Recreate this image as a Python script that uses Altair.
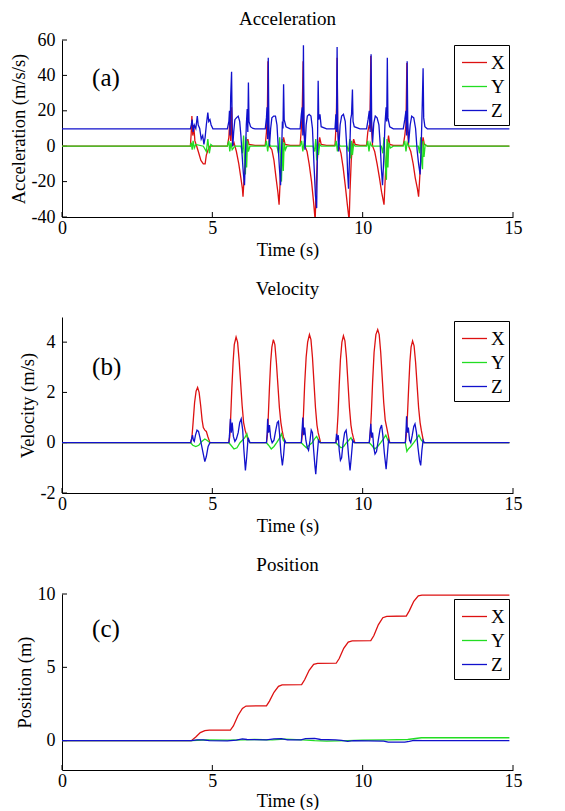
import altair as alt
import pandas as pd

# ---------------- data ----------------
series_names = ["X", "Y", "Z"]
series_colors = ["#dd1111", "#22dd22", "#1111cc"]

x_ticks = [0, 5, 10, 15]
acc_ticks = [-40, -20, 0, 20, 40, 60]
vel_ticks = [-2, 0, 2, 4]
pos_ticks = [0, 5, 10]

acc_x = [(0, 0), (4.27, 0), (4.30, 8), (4.32, 17), (4.35, 6), (4.38, 12), (4.42, 3), (4.48, 0), (4.55, -4),
         (4.62, -8), (4.70, -10), (4.76, -10), (4.80, -5), (4.86, -2), (4.92, 0), (5.02, 0),
         (5.50, 0), (5.55, 5), (5.58, 15), (5.61, 3), (5.64, 22), (5.67, 0), (5.72, 2), (5.80, -3), (5.88, -10),
         (5.95, -18), (6.00, -24), (6.02, -28.5), (6.05, -20), (6.09, -8), (6.13, 0), (6.18, 4), (6.22, 1), (6.42, 0.5),
         (6.76, 0.5), (6.80, 8), (6.83, 18), (6.85, 48), (6.87, 10), (6.90, 0), (6.98, -2), (7.05, -8), (7.12, -18),
         (7.18, -26), (7.22, -33), (7.25, -22), (7.29, -8), (7.33, 0), (7.37, 5), (7.42, 1), (7.59, 0.5),
         (7.92, 0.5), (7.96, 10), (7.99, 20), (8.02, 48), (8.04, 12), (8.08, 0), (8.15, -3), (8.22, -10), (8.30, -20),
         (8.37, -32), (8.42, -42), (8.45, -25), (8.49, -8), (8.53, 0), (8.57, 5), (8.62, 1), (8.80, 0.5),
         (9.08, 0.5), (9.11, 10), (9.13, 22), (9.15, 50), (9.17, 10), (9.21, 0), (9.28, -4), (9.35, -12), (9.42, -22),
         (9.49, -33), (9.55, -42), (9.58, -25), (9.62, -8), (9.66, 0), (9.70, 4), (9.75, 1), (9.91, 0.5),
         (10.13, 0.5), (10.17, 8), (10.22, 12), (10.24, 10), (10.27, 51), (10.29, 12), (10.33, 0), (10.40, -3),
         (10.48, -10), (10.56, -18), (10.63, -26), (10.71, -33), (10.74, -22), (10.78, -8), (10.82, 0), (10.86, 6),
         (10.90, 1), (11.02, 0.5),
         (11.35, 0.5), (11.40, 6), (11.44, 12), (11.47, 47), (11.49, 10), (11.53, 0), (11.60, -3), (11.68, -10),
         (11.75, -18), (11.82, -24), (11.86, -28.5), (11.89, -20), (11.93, -8), (11.97, 0), (12.01, 5), (12.05, 1),
         (12.15, 0), (14.88, 0)]

acc_y = [(0, 0), (4.27, 0), (4.30, 2), (4.33, -2), (4.36, 3), (4.40, -1), (4.45, 1), (4.70, 0), (4.80, -3),
         (4.85, 4), (4.90, -4), (4.95, 1), (5.02, 0),
         (5.50, 0), (5.55, 3), (5.58, -3), (5.62, 2), (5.66, -2), (5.75, 0), (5.95, 0), (6.00, -4), (6.04, 6),
         (6.07, -8), (6.10, -16), (6.12, 5), (6.14, -12), (6.17, 3), (6.20, -3), (6.25, 0), (6.42, 0),
         (6.76, 0), (6.80, 3), (6.84, -3), (6.88, 2), (6.93, 0), (7.15, 0), (7.20, -4), (7.24, 5), (7.27, -8),
         (7.30, -20), (7.33, 4), (7.36, -14), (7.39, 2), (7.43, -2), (7.48, 0), (7.59, 0),
         (7.92, 0), (7.97, 3), (8.01, -3), (8.05, 2), (8.10, 0), (8.35, 0), (8.40, -3), (8.44, 4), (8.47, -8),
         (8.50, 3), (8.53, -5), (8.57, 1), (8.62, 0), (8.80, 0),
         (9.08, 0), (9.12, 3), (9.16, -3), (9.20, 2), (9.25, 0), (9.48, 0), (9.53, -3), (9.57, 4), (9.60, -7),
         (9.63, 3), (9.66, -5), (9.70, 1), (9.75, 0), (9.91, 0),
         (10.13, 0), (10.17, 3), (10.21, -3), (10.25, 2), (10.30, 0), (10.62, 0), (10.67, -4), (10.71, 5),
         (10.75, -10), (10.79, -19), (10.81, 4), (10.84, -12), (10.87, 2), (10.92, -1), (11.02, 0),
         (11.35, 0), (11.40, 3), (11.44, -3), (11.48, 2), (11.53, 0), (11.85, 0), (11.89, -4), (11.93, 5),
         (11.96, -8), (11.99, -13), (12.01, 3), (12.04, -6), (12.08, 1), (12.15, 0), (14.88, 0)]

acc_z = [(0, 9.8), (4.27, 9.8), (4.30, 12), (4.33, 15), (4.36, 8), (4.40, 12), (4.45, 10), (4.50, 17), (4.53, 12),
         (4.58, 10), (4.63, 4), (4.68, 6), (4.72, 1), (4.76, 5), (4.80, 12), (4.85, 19), (4.88, 14), (4.92, 15),
         (4.96, 12), (5.02, 9.8),
         (5.50, 9.8), (5.55, 14), (5.57, 20), (5.59, 6), (5.61, 28), (5.64, 42), (5.66, 12), (5.68, 0), (5.71, 8),
         (5.75, 15), (5.80, 16), (5.86, 17), (5.91, 14), (5.95, 6), (5.99, -5), (6.03, -15), (6.07, -22), (6.10, -6),
         (6.13, 12), (6.16, 21), (6.18, 8), (6.20, 36), (6.22, 14), (6.27, 11), (6.35, 10), (6.42, 9.8),
         (6.76, 9.8), (6.80, 16), (6.82, 22), (6.84, 4), (6.86, 50), (6.88, 12), (6.90, 0), (6.94, 10), (6.98, 16),
         (7.04, 17), (7.10, 17), (7.15, 12), (7.19, 0), (7.23, -12), (7.27, -22), (7.30, -5), (7.33, 14), (7.35, 10),
         (7.37, 35), (7.39, 15), (7.45, 11), (7.59, 9.8),
         (7.92, 9.8), (7.96, 18), (7.99, 22), (8.01, 6), (8.03, 57), (8.05, 10), (8.08, -2), (8.12, 12), (8.16, 17),
         (8.22, 18), (8.28, 17), (8.33, 10), (8.38, -10), (8.43, -28), (8.47, -35), (8.49, -10), (8.51, 20),
         (8.52, 37), (8.54, 15), (8.58, 18), (8.62, 11), (8.80, 9.8),
         (9.08, 9.8), (9.11, 18), (9.13, 8), (9.15, 56), (9.17, 12), (9.20, -3), (9.25, 12), (9.30, 17), (9.36, 18),
         (9.42, 14), (9.47, 0), (9.50, -15), (9.53, -24), (9.56, -8), (9.60, 15), (9.63, 18), (9.66, 32), (9.68, 14),
         (9.72, 11), (9.91, 9.8),
         (10.13, 9.8), (10.18, 15), (10.22, 20), (10.25, 8), (10.28, 52), (10.30, 14), (10.33, 2), (10.37, 13),
         (10.42, 17), (10.48, 16), (10.54, 12), (10.58, 2), (10.62, -12), (10.66, -22), (10.70, -8), (10.74, 12),
         (10.78, 22), (10.80, 14), (10.82, 50), (10.84, 16), (10.90, 11), (11.02, 9.8),
         (11.35, 9.8), (11.40, 15), (11.44, 20), (11.46, 6), (11.48, 48), (11.50, 14), (11.53, 2), (11.58, 12),
         (11.63, 17), (11.70, 16), (11.76, 10), (11.81, -2), (11.86, -10), (11.91, -16), (11.94, -4), (11.97, 15),
         (12.01, 44), (12.03, 16), (12.07, 11), (12.15, 9.8), (14.88, 9.8)]

vel_x = [(0, 0), (4.28, 0), (4.32, 0.2), (4.36, 0.8), (4.41, 1.6), (4.46, 2.05), (4.51, 2.2), (4.56, 2.0),
         (4.61, 1.5), (4.66, 0.9), (4.70, 0.6), (4.75, 0.5), (4.80, 0.45), (4.85, 0.25), (4.92, 0),
         (5.55, 0), (5.58, 0.25), (5.61, 1.0), (5.65, 2.2), (5.69, 3.2), (5.73, 3.9), (5.79, 4.2), (5.84, 4.0),
         (5.89, 3.3), (5.94, 2.4), (5.99, 1.5), (6.04, 0.8), (6.09, 0.5), (6.14, 0.3), (6.19, 0.1), (6.25, 0),
         (6.80, 0), (6.83, 0.3), (6.86, 1.0), (6.90, 2.2), (6.94, 3.2), (6.98, 3.8), (7.03, 4.1), (7.08, 3.9),
         (7.13, 3.2), (7.18, 2.3), (7.23, 1.4), (7.28, 0.8), (7.32, 0.5), (7.36, 0.25), (7.42, 0),
         (7.96, 0), (7.99, 0.3), (8.03, 1.1), (8.07, 2.3), (8.12, 3.4), (8.17, 4.0), (8.23, 4.3), (8.28, 4.1),
         (8.33, 3.4), (8.38, 2.4), (8.43, 1.4), (8.48, 0.7), (8.52, 0.4), (8.56, 0.2), (8.60, 0),
         (9.11, 0), (9.14, 0.3), (9.18, 1.1), (9.22, 2.3), (9.26, 3.3), (9.31, 4.0), (9.36, 4.25), (9.41, 4.05),
         (9.46, 3.4), (9.51, 2.4), (9.56, 1.4), (9.61, 0.7), (9.65, 0.4), (9.69, 0.2), (9.74, 0),
         (10.22, 0), (10.25, 0.3), (10.29, 1.2), (10.33, 2.4), (10.38, 3.6), (10.44, 4.3), (10.50, 4.5),
         (10.55, 4.3), (10.60, 3.6), (10.65, 2.6), (10.70, 1.6), (10.75, 0.9), (10.80, 0.6), (10.85, 0.3), (10.90, 0),
         (11.42, 0), (11.45, 0.3), (11.49, 1.1), (11.53, 2.2), (11.57, 3.2), (11.61, 3.8), (11.66, 4.05),
         (11.71, 3.85), (11.76, 3.2), (11.81, 2.3), (11.86, 1.4), (11.91, 0.8), (11.95, 0.5), (11.99, 0.25),
         (12.03, 0), (14.88, 0)]

vel_y = [(0, 0), (4.28, 0), (4.35, -0.1), (4.45, -0.15), (4.55, -0.1), (4.65, 0.05), (4.75, 0.15), (4.82, 0.1), (4.92, 0),
         (5.55, 0), (5.62, -0.1), (5.72, -0.25), (5.82, -0.2), (5.92, 0.0), (6.00, 0.1), (6.08, 0.2), (6.15, 0.35),
         (6.20, 0.1), (6.25, 0),
         (6.80, 0), (6.87, -0.1), (6.96, -0.25), (7.05, -0.15), (7.14, 0.0), (7.22, 0.15), (7.30, 0.35), (7.36, 0.1), (7.42, 0),
         (7.96, 0), (8.04, -0.1), (8.13, -0.2), (8.22, -0.1), (8.32, 0.0), (8.40, 0.15), (8.47, 0.25), (8.53, 0.1), (8.60, 0),
         (9.11, 0), (9.19, -0.1), (9.28, -0.2), (9.37, -0.15), (9.46, 0.0), (9.54, 0.1), (9.61, 0.2), (9.67, 0.05), (9.74, 0),
         (10.22, 0), (10.30, -0.1), (10.40, -0.25), (10.50, -0.15), (10.60, 0.0), (10.69, 0.15), (10.77, 0.3),
         (10.84, 0.1), (10.90, 0),
         (11.42, 0), (11.47, -0.35), (11.52, -0.25), (11.60, -0.15), (11.70, 0.0), (11.79, 0.15), (11.87, 0.3),
         (11.95, 0.1), (12.03, 0), (14.88, 0)]

vel_z = [(0, 0), (4.28, 0), (4.31, 0.15), (4.34, 0.3), (4.37, 0.1), (4.40, 0.05), (4.44, 0.3), (4.49, 0.5),
         (4.54, 0.45), (4.59, 0.2), (4.64, -0.1), (4.70, -0.45), (4.75, -0.75), (4.80, -0.55), (4.86, -0.15), (4.92, 0),
         (5.55, 0), (5.57, 0.3), (5.60, 0.95), (5.63, 0.4), (5.66, 0.8), (5.70, 0.25), (5.75, 0.05), (5.80, 0.15),
         (5.86, 0.4), (5.91, 0.8), (5.96, 0.95), (6.01, 0.5), (6.05, -0.3), (6.10, -1.1), (6.14, -0.6), (6.19, 0.2), (6.25, 0),
         (6.80, 0), (6.82, 0.3), (6.84, 0.95), (6.87, 0.4), (6.90, 0.7), (6.94, 0.2), (6.99, 0.0), (7.05, 0.1),
         (7.11, 0.5), (7.16, 0.8), (7.20, 0.85), (7.24, 0.3), (7.28, -0.4), (7.33, -0.9), (7.37, -0.5), (7.41, 0.1), (7.45, 0),
         (7.96, 0), (7.98, 0.4), (8.01, 1.0), (8.04, 0.3), (8.07, 0.6), (8.11, 0.1), (8.16, -0.2), (8.20, -0.3),
         (8.25, 0.1), (8.29, 0.5), (8.33, 0.4), (8.37, -0.3), (8.41, -0.9), (8.44, -1.25), (8.48, -0.6), (8.53, 0.1), (8.58, 0),
         (9.11, 0), (9.13, 0.35), (9.16, 0.1), (9.19, 0.3), (9.22, -0.3), (9.26, -0.7), (9.30, -0.6), (9.35, 0.0),
         (9.40, 0.4), (9.45, 0.5), (9.49, 0.1), (9.53, -0.5), (9.58, -1.1), (9.62, -0.6), (9.67, 0.1), (9.72, 0),
         (10.22, 0), (10.24, 0.3), (10.27, 0.75), (10.30, 0.2), (10.33, 0.4), (10.37, -0.2), (10.41, -0.45),
         (10.46, -0.35), (10.52, 0.1), (10.58, 0.55), (10.63, 0.7), (10.67, 0.3), (10.72, -0.4), (10.78, -1.05),
         (10.82, -0.5), (10.86, 0.1), (10.90, 0),
         (11.42, 0), (11.44, 0.4), (11.46, 1.05), (11.49, 0.4), (11.52, 0.6), (11.56, 0.1), (11.60, 0.0), (11.65, 0.3),
         (11.70, 0.65), (11.74, 0.75), (11.79, 0.4), (11.84, -0.2), (11.89, -0.7), (11.93, -0.9), (11.97, -0.3),
         (12.01, 0.1), (12.05, 0), (14.88, 0)]

pos_x = [(0, 0), (4.3, 0), (4.45, 0.25), (4.6, 0.55), (4.75, 0.68), (4.9, 0.72), (5.6, 0.72), (5.7, 1.0),
         (5.85, 1.7), (6.0, 2.2), (6.12, 2.36), (6.8, 2.38), (6.9, 2.7), (7.05, 3.3), (7.2, 3.7), (7.32, 3.8),
         (7.97, 3.82), (8.07, 4.15), (8.22, 4.8), (8.37, 5.2), (8.5, 5.27), (9.12, 5.28), (9.22, 5.6), (9.37, 6.3),
         (9.52, 6.72), (9.65, 6.8), (10.27, 6.82), (10.37, 7.15), (10.52, 7.9), (10.67, 8.38), (10.8, 8.48),
         (11.45, 8.5), (11.55, 8.85), (11.7, 9.5), (11.85, 9.88), (11.97, 9.93), (14.88, 9.93)]

pos_y = [(0, 0), (4.3, 0), (4.5, 0.03), (4.8, 0.05), (5.5, 0.04), (6.0, 0.06), (6.4, 0.08), (7.0, 0.06),
         (7.4, 0.1), (8.0, 0.05), (8.4, 0.0), (8.8, -0.03), (9.5, 0.0), (10.0, 0.03), (10.8, 0.05), (11.5, 0.08),
         (11.95, 0.2), (14.88, 0.2)]

pos_z = [(0, 0), (4.3, 0), (4.5, 0.05), (4.7, 0.06), (4.9, 0.0), (5.5, -0.02), (5.8, 0.03), (6.0, 0.12),
         (6.15, 0.08), (6.8, 0.05), (7.05, 0.12), (7.3, 0.14), (7.5, 0.06), (7.95, 0.05), (8.1, 0.14), (8.4, 0.15),
         (8.6, 0.08), (9.1, 0.05), (9.3, 0.02), (9.5, -0.05), (9.7, 0.0), (10.2, -0.02), (10.7, -0.03),
         (10.85, -0.1), (11.4, -0.1), (11.55, -0.05), (11.7, 0.02), (12.0, 0.0), (14.88, 0.0)]

FONT = "Liberation Serif"
W = 451


def frame(pairs, name):
    return pd.DataFrame({"t": [p[0] for p in pairs], "v": [p[1] for p in pairs], "series": name})


def panel(title, ylabel, series, ydom, yticks, label, label_y, H, title_offset, legend_y, xtitle_pad):
    xscale = alt.Scale(domain=[0, 15], nice=False, zero=False)
    yscale = alt.Scale(domain=ydom, nice=False, zero=False)
    xenc = alt.X("t:Q", scale=xscale, title="Time (s)",
                 axis=alt.Axis(values=x_ticks, labelExpr="'' + datum.value",
                               labelFlush=False, labelOverlap=False, titlePadding=xtitle_pad))
    yenc = alt.Y("v:Q", scale=yscale, title=ylabel,
                 axis=alt.Axis(values=yticks, labelExpr="'' + datum.value", labelOverlap=False))
    color = alt.Color("series:N",
                      scale=alt.Scale(domain=series_names, range=series_colors),
                      legend=alt.Legend(title=None, orient="none", legendX=392, legendY=legend_y,
                                        symbolType="stroke", symbolSize=625, symbolStrokeWidth=1.3,
                                        symbolOffset=3, labelOffset=3, rowPadding=0, padding=4,
                                        labelFont=FONT, labelFontSize=19, labelColor="black",
                                        strokeColor="black", fillColor="white"))
    layers = []
    for pairs, name in zip(series, series_names):
        layers.append(alt.Chart(frame(pairs, name)).mark_line(strokeWidth=1.3, clip=True)
                      .encode(x=xenc, y=yenc, color=color))
    xt = alt.Chart(pd.DataFrame({"t": x_ticks})).mark_rule(color="black", strokeWidth=1).encode(
        x=xenc, y=alt.value(H), y2=alt.value(H - 5))
    yt = alt.Chart(pd.DataFrame({"v": yticks})).mark_rule(color="black", strokeWidth=1).encode(
        y=yenc, x=alt.value(0), x2=alt.value(5))
    txt = alt.Chart(pd.DataFrame({"lab": [label], "t": [1.0], "v": [label_y]})).mark_text(
        font=FONT, fontSize=25, align="left", baseline="alphabetic", color="black").encode(
        x=xenc, y=yenc, text="lab:N")
    return alt.layer(xt, yt, *layers, txt).properties(
        width=W, height=H, title=alt.TitleParams(title, offset=title_offset))


pa = panel("Acceleration", "Acceleration (m/s/s)", [acc_x, acc_y, acc_z], [-40, 60], acc_ticks,
           "(a)", 34, 177, 2, 5, 3)
pb = panel("Velocity", "Velocity (m/s)", [vel_x, vel_y, vel_z], [-2, 5], vel_ticks,
           "(b)", 2.7, 176, 18, 4, 3)
pc = panel("Position", "Position (m)", [pos_x, pos_y, pos_z], [-2, 10], pos_ticks,
           "(c)", 7.1, 176, 10, 5, 1)

chart = alt.vconcat(pa, pb, pc, spacing=21).resolve_scale(color="independent").resolve_legend(
    color="independent").properties(padding={"left": 1, "top": 2, "right": 5, "bottom": 0}).configure_axis(
    labelFont=FONT, titleFont=FONT, labelFontSize=18, titleFontSize=18.5, titleFontWeight="normal",
    labelColor="black", titleColor="black", domainColor="black", domainWidth=1, ticks=False, grid=False,
    labelOverlap=False
).configure_axisX(labelPadding=2).configure_axisY(labelPadding=7, titlePadding=3).configure_title(
    font=FONT, fontSize=19, fontWeight="normal", color="black", anchor="middle", baseline="alphabetic"
).configure_view(strokeWidth=0)

chart.save("out.html", embed_options={"renderer": "svg", "actions": False})
